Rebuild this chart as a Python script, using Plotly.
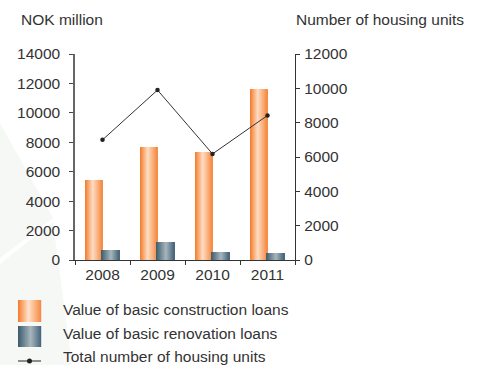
import plotly.graph_objects as go

# ---- data -----------------------------------------------------------------
years = ["2008", "2009", "2010", "2011"]
construction_loans = [5450, 7700, 7350, 11650]     # NOK million
renovation_loans = [680, 1220, 520, 450]            # NOK million
housing_units = [7000, 9900, 6180, 8420]            # number of units

left_ticks = [0, 2000, 4000, 6000, 8000, 10000, 12000, 14000]
right_ticks = [0, 2000, 4000, 6000, 8000, 10000, 12000]

series_names = [
    "Value of basic construction loans",
    "Value of basic renovation loans",
    "Total number of housing units",
]

# ---- layout geometry (pixels) ------------------------------------------------
W, H = 479, 365
ML, MR, MT, MB = 75, 184, 54, 105
PW, PH = W - ML - MR, H - MT - MB

FONT = "Liberation Sans, Arial, sans-serif"
FS = 15.5
TXT = "#333333"


def px_x(x):
    return (x - ML) / PW


def px_y(y):
    return (H - MB - y) / PH


def hex_rgb(h):
    h = h.lstrip("#")
    return tuple(int(h[i:i + 2], 16) for i in (0, 2, 4))


def gradient(stops, t):
    for (t0, c0), (t1, c1) in zip(stops, stops[1:]):
        if t0 <= t <= t1:
            f = (t - t0) / (t1 - t0) if t1 > t0 else 0
            a, b = hex_rgb(c0), hex_rgb(c1)
            r = [round(a[i] + (b[i] - a[i]) * f) for i in range(3)]
            return "rgb({},{},{})".format(*r)
    return stops[-1][1]


ORANGE = [(0.0, "#f47a28"), (0.45, "#fee2cc"), (1.0, "#f68a40")]
SLATE = [(0.0, "#3a5b6b"), (0.55, "#a8b6bd"), (1.0, "#45647a")]

fig = go.Figure()

# bars are built from thin vertical slices so each one carries a horizontal gradient
BAR_W = 0.31
SLICES = 18
step = BAR_W / SLICES
for values, stops, start in ((construction_loans, ORANGE, -BAR_W),
                             (renovation_loans, SLATE, -0.01)):
    for k in range(SLICES):
        t = (k + 0.5) / SLICES
        fig.add_trace(go.Bar(
            x=years, y=values,
            offset=start + k * step, width=step * 1.15,
            marker=dict(color=gradient(stops, t), line=dict(width=0)),
            showlegend=False, hoverinfo="skip", yaxis="y",
        ))

fig.add_trace(go.Scatter(
    x=years, y=housing_units, yaxis="y2",
    mode="lines+markers",
    line=dict(color="#333333", width=1),
    marker=dict(color="#222222", size=4.5),
    showlegend=False,
))

shapes = []

# faint background facets on the left edge
for pts in ([(0, 123), (53, 218), (0, 258)],
            [(0, 264), (53, 222), (72, 365), (0, 365)]):
    path = "M " + " L ".join(f"{px_x(x):.4f},{px_y(y):.4f}" for x, y in pts) + " Z"
    shapes.append(dict(type="path", xref="paper", yref="paper", path=path,
                       fillcolor="#f6f8f6", line=dict(width=0), layer="below"))

# legend swatches
SW_X0, SW_X1 = 18, 41
for (y0, y1), stops in (((300, 322), ORANGE), ((326, 347), SLATE)):
    n = SW_X1 - SW_X0
    for k in range(n):
        t = (k + 0.5) / n
        shapes.append(dict(type="rect", xref="paper", yref="paper",
                           x0=px_x(SW_X0 + k), x1=px_x(SW_X0 + k + 1.2),
                           y0=px_y(y1), y1=px_y(y0),
                           fillcolor=gradient(stops, t), line=dict(width=0)))
shapes.append(dict(type="line", xref="paper", yref="paper",
                   x0=px_x(SW_X0), x1=px_x(SW_X1), y0=px_y(361), y1=px_y(361),
                   line=dict(color="#222222", width=1)))
shapes.append(dict(type="circle", xref="paper", yref="paper",
                   x0=px_x(27), x1=px_x(32), y0=px_y(363.5), y1=px_y(358.5),
                   fillcolor="#222222", line=dict(width=0)))

annotations = [
    dict(text="NOK million", x=px_x(19), y=px_y(19)),
    dict(text="Number of housing units", x=px_x(294), y=px_y(19)),
]
for name, yc in zip(series_names, (309, 333, 356)):
    annotations.append(dict(text=name, x=px_x(61), y=px_y(yc)))
for a in annotations:
    a.update(xref="paper", yref="paper", xanchor="left", yanchor="middle",
             showarrow=False, font=dict(family=FONT, size=FS, color=TXT))

tickfont = dict(family=FONT, size=FS, color=TXT)

fig.update_layout(
    width=W, height=H,
    margin=dict(l=ML, r=MR, t=MT, b=MB, pad=0),
    paper_bgcolor="#ffffff", plot_bgcolor="rgba(0,0,0,0)",
    barmode="overlay", bargap=0,
    showlegend=False,
    shapes=shapes, annotations=annotations,
    xaxis=dict(type="category", range=[-0.5, 3.5], showline=True,
               linecolor="#333333", linewidth=1.2, ticks="outside",
               tickson="boundaries", ticklen=4, tickcolor="#333333",
               showgrid=False, tickfont=tickfont, zeroline=False),
    yaxis=dict(range=[0, 14000], tickvals=left_ticks,
               ticktext=[str(v) for v in left_ticks], showline=True,
               linecolor="#666666", linewidth=1.5, ticks="outside", ticklen=4,
               tickcolor="#444444", showgrid=False, zeroline=False,
               tickfont=tickfont, ticklabelstandoff=6),
    yaxis2=dict(range=[0, 12000], tickvals=right_ticks,
                ticktext=[str(v) for v in right_ticks], overlaying="y",
                side="right", showline=True, linecolor="#333333", linewidth=1.2,
                ticks="outside", ticklen=4, tickcolor="#333333",
                showgrid=False, zeroline=False, tickfont=tickfont,
                ticklabelstandoff=1),
)

fig.write_html("out.html")
